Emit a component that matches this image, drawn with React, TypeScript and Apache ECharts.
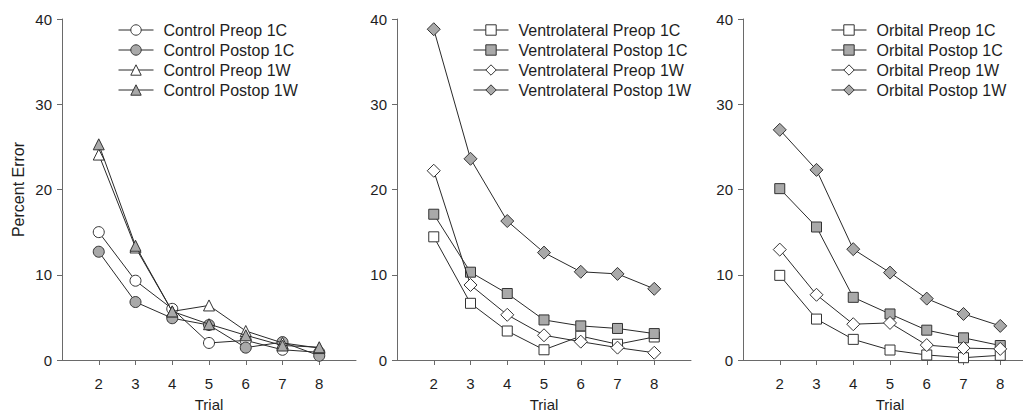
import React, { useEffect, useRef } from "react";
import * as echarts from "echarts";

const trials = [2, 3, 4, 5, 6, 7, 8];
const yTicks = [0, 10, 20, 30, 40];

const controlNames = ["Control Preop 1C", "Control Postop 1C", "Control Preop 1W", "Control Postop 1W"];
const controlPreop1C = [15.0, 9.3, 6.0, 2.0, 2.3, 1.2, 0.9];
const controlPostop1C = [12.7, 6.8, 4.9, 4.1, 1.45, 2.1, 0.5];
const controlPreop1W = [24.1, 13.2, 5.7, 6.4, 3.4, 2.0, 1.4];
const controlPostop1W = [25.3, 13.4, 5.7, 4.2, 2.9, 1.7, 1.5];

const vlNames = ["Ventrolateral Preop 1C", "Ventrolateral Postop 1C", "Ventrolateral Preop 1W", "Ventrolateral Postop 1W"];
const vlPreop1C = [14.45, 6.65, 3.4, 1.2, 2.8, 1.85, 2.7];
const vlPostop1C = [17.1, 10.3, 7.8, 4.7, 4.0, 3.7, 3.1];
const vlPreop1W = [22.2, 8.8, 5.3, 2.9, 2.15, 1.45, 0.85];
const vlPostop1W = [38.8, 23.6, 16.3, 12.6, 10.35, 10.1, 8.35];

const orbNames = ["Orbital Preop 1C", "Orbital Postop 1C", "Orbital Preop 1W", "Orbital Postop 1W"];
const orbPreop1C = [9.93, 4.8, 2.42, 1.17, 0.59, 0.27, 0.55];
const orbPostop1C = [20.1, 15.6, 7.35, 5.4, 3.5, 2.6, 1.7];
const orbPreop1W = [12.95, 7.65, 4.2, 4.35, 1.75, 1.4, 1.3];
const orbPostop1W = [27.0, 22.3, 13.0, 10.25, 7.2, 5.4, 4.0];

const GRAY = "#a9a9a9";
const WHITE = "#ffffff";
const TEXT = "#1e1e1e";
const AXIS = "#6a6a6a";
const FONT = "Liberation Sans, Arial, sans-serif";

const panels = [
  {
    names: controlNames,
    values: [controlPreop1C, controlPostop1C, controlPreop1W, controlPostop1W],
    symbols: ["circle", "circle", "triangle", "triangle"],
    sizes: [11, 11, 11, 11],
    left: 62,
    legendLeft: 118,
  },
  {
    names: vlNames,
    values: [vlPreop1C, vlPostop1C, vlPreop1W, vlPostop1W],
    symbols: ["rect", "rect", "diamond", "diamond"],
    sizes: [10, 10, 13, 13],
    left: 397,
    legendLeft: 473,
  },
  {
    names: orbNames,
    values: [orbPreop1C, orbPostop1C, orbPreop1W, orbPostop1W],
    symbols: ["rect", "rect", "diamond", "diamond"],
    sizes: [10, 10, 13, 13],
    left: 743,
    legendLeft: 831,
  },
];
const fills = [WHITE, GRAY, WHITE, GRAY];

export default function App() {
  const ref = useRef<HTMLDivElement>(null);
  useEffect(() => {
    if (!ref.current) return;
    const chart = echarts.init(ref.current, null, { renderer: "svg" });
    const grids = panels.map((p) => ({
      left: p.left,
      top: 19,
      width: 294,
      height: 341,
      containLabel: false,
      outerBoundsMode: "none",
    }));
    const xAxes = panels.map((p, i) => ({
      type: "value",
      gridIndex: i,
      min: 1,
      max: 9,
      interval: 1,
      name: "Trial",
      nameLocation: "middle",
      nameGap: 37,
      nameTextStyle: { fontSize: 15, color: TEXT, fontFamily: FONT },
      axisLine: { show: true, lineStyle: { color: AXIS, width: 1 } },
      axisTick: { show: true, length: 5, lineStyle: { color: AXIS }, customValues: trials },
      axisLabel: { fontSize: 15, color: TEXT, fontFamily: FONT, margin: 16, customValues: trials },
      splitLine: { show: false },
    }));
    const yAxes = panels.map((p, i) => ({
      type: "value",
      gridIndex: i,
      min: 0,
      max: 40,
      interval: 10,
      name: i === 0 ? "Percent Error" : "",
      nameLocation: "middle",
      nameGap: 36,
      nameTextStyle: { fontSize: 16, color: TEXT, fontFamily: FONT },
      axisLine: { show: true, lineStyle: { color: AXIS, width: 1 } },
      axisTick: { show: true, length: 5, lineStyle: { color: AXIS }, customValues: yTicks },
      axisLabel: { fontSize: 15, color: TEXT, fontFamily: FONT, margin: 10, customValues: yTicks },
      splitLine: { show: false },
    }));
    const series: any[] = [];
    panels.forEach((p, pi) => {
      p.names.forEach((name, si) => {
        series.push({
          type: "line",
          name,
          xAxisIndex: pi,
          yAxisIndex: pi,
          data: trials.map((t, k) => [t, p.values[si][k]]),
          symbol: p.symbols[si],
          symbolSize: p.sizes[si],
          showAllSymbol: true,
          lineStyle: { color: "#2a2a2a", width: 1 },
          itemStyle: { color: fills[si], borderColor: "#333333", borderWidth: 1, opacity: 1 },
          emphasis: { disabled: true },
          z: 2 + si,
        });
      });
    });
    const legends = panels.map((p) => ({
      data: p.names,
      orient: "vertical",
      left: p.legendLeft,
      top: 22,
      padding: 0,
      itemWidth: 35,
      itemHeight: 13,
      itemGap: 4,
      selectedMode: false,
      lineStyle: { width: 1 },
      itemStyle: { borderWidth: 1 },
      textStyle: { fontSize: 16, color: TEXT, fontFamily: FONT, padding: [0, 0, 0, 5] },
    }));
    chart.setOption({
      animation: false,
      backgroundColor: "#ffffff",
      grid: grids,
      xAxis: xAxes,
      yAxis: yAxes,
      legend: legends,
      series,
    });
    return () => chart.dispose();
  }, []);
  return (
    <div
      ref={ref}
      style={{ position: "absolute", left: 0, top: 0, width: 1023, height: 412 }}
    />
  );
}
